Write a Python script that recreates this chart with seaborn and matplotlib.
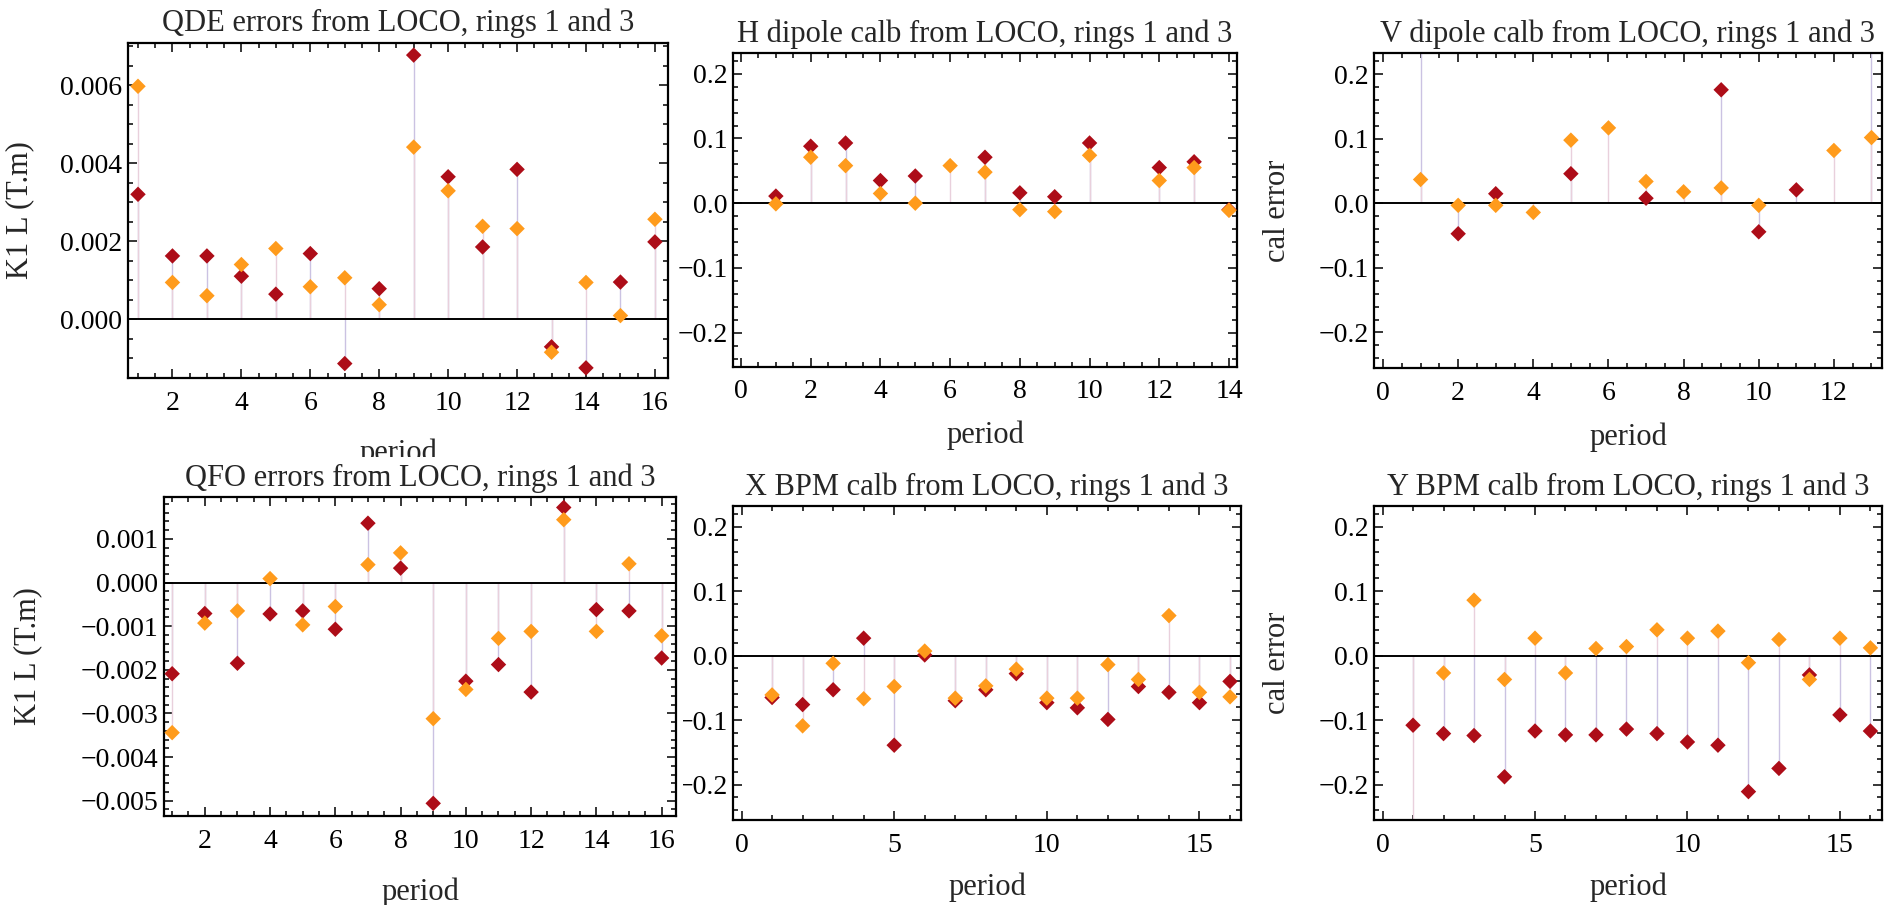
import numpy as np
import pandas as pd
import seaborn as sns
import matplotlib.pyplot as plt
from matplotlib.ticker import MultipleLocator, FuncFormatter
from matplotlib.patches import Rectangle

nan = np.nan

# periods for each panel
periods16 = list(range(1, 17))
periods14 = list(range(1, 15))
periods13 = list(range(1, 14))

# QDE errors (K1L, T.m)
qde_ring1 = [0.00320, 0.00162, 0.00162, 0.00110, 0.00064, 0.00168, -0.00114, 0.00078,
             0.00677, 0.00365, 0.00185, 0.00384, -0.00071, -0.00125, 0.00095, 0.00198]
qde_ring3 = [0.00597, 0.00094, 0.00060, 0.00140, 0.00181, 0.00083, 0.00106, 0.00037,
             0.00441, 0.00329, 0.00238, 0.00232, -0.00085, 0.00094, 0.00009, 0.00256]

# H dipole calibration
hdip_ring1 = [0.011, 0.088, 0.093, 0.035, 0.042, nan, 0.071, 0.016, 0.010, 0.093, nan, 0.055, 0.064, -0.010]
hdip_ring3 = [-0.001, 0.071, 0.058, 0.015, 0.000, 0.058, 0.048, -0.010, -0.013, 0.074, nan, 0.035, 0.055, -0.011]

# V dipole calibration (periods 1 and 13 of ring 1 are off the top of the plot)
vdip_ring1 = [0.30, -0.047, 0.015, nan, 0.046, nan, 0.008, nan, 0.176, -0.044, 0.021, nan, 0.30]
vdip_ring3 = [0.037, -0.003, -0.003, -0.014, 0.098, 0.117, 0.034, 0.018, 0.024, -0.003, nan, 0.082, 0.102]

# QFO errors (K1L, T.m)
qfo_ring1 = [-0.00209, -0.00071, -0.00185, -0.00072, -0.00065, -0.00107, 0.00136, 0.00033,
             -0.00506, -0.00226, -0.00188, -0.00251, 0.00172, -0.00062, -0.00065, -0.00173]
qfo_ring3 = [-0.00344, -0.00093, -0.00065, 0.00009, -0.00097, -0.00055, 0.00041, 0.00068,
             -0.00312, -0.00245, -0.00128, -0.00112, 0.00144, -0.00112, 0.00043, -0.00122]

# X BPM calibration
xbpm_ring1 = [-0.065, -0.076, -0.053, 0.027, -0.139, 0.001, -0.070, -0.053,
              -0.028, -0.073, -0.081, -0.099, -0.048, -0.057, -0.073, -0.040]
xbpm_ring3 = [-0.061, -0.109, -0.012, -0.067, -0.048, 0.007, -0.066, -0.047,
              -0.021, -0.066, -0.066, -0.014, -0.037, 0.062, -0.057, -0.064]

# Y BPM calibration (period 1 of ring 3 is off the bottom of the plot)
ybpm_ring1 = [-0.108, -0.121, -0.124, -0.188, -0.117, -0.123, -0.123, -0.114,
              -0.121, -0.134, -0.139, -0.211, -0.175, -0.030, -0.092, -0.117]
ybpm_ring3 = [-0.30, -0.027, 0.086, -0.037, 0.027, -0.027, 0.011, 0.014,
              0.040, 0.027, 0.038, -0.011, 0.025, -0.037, 0.027, 0.012]

PALETTE = {'ring 1': '#ad0d18', 'ring 3': '#ff9b1c'}
STEMS = {'ring 1': '#cbc2e2', 'ring 3': '#e9d0dc'}

sns.set_theme(style='ticks')
plt.rcParams['font.family'] = ['Liberation Serif', 'DejaVu Serif']
plt.rcParams['axes.linewidth'] = 1.5
plt.rcParams['axes.edgecolor'] = 'black'

W, H = 1884, 905
fig = plt.figure(figsize=(W / 100, H / 100), dpi=100)


def place(x0, y0, x1, y1, z=0):
    ax = fig.add_axes([x0 / W, 1 - y1 / H, (x1 - x0) / W, (y1 - y0) / H])
    ax.set_zorder(z)
    return ax


def fmt(decimals):
    def f(v, pos):
        s = f'{v:.{decimals}f}'
        if float(s) == 0:
            s = s.lstrip('-')
        return s.replace('-', '\u2212')
    return FuncFormatter(f)


def draw_panel(ax, periods, ring1, ring3, title, xlim, ylim, xstep, xminor, ystep, yminor, decimals,
               ylabel=None, ylabel_x=-0.2, xlabel_y=-0.215):
    df = pd.DataFrame({
        'period': list(periods) * 2,
        'value': list(ring1) + list(ring3),
        'ring': ['ring 1'] * len(periods) + ['ring 3'] * len(periods),
    }).dropna()
    for ring, c in STEMS.items():
        sub = df[df['ring'] == ring]
        ax.vlines(sub['period'], 0, sub['value'], colors=c, lw=1.0, zorder=1)
    ax.axhline(0, color='black', lw=1.4, zorder=2)
    sns.scatterplot(data=df, x='period', y='value', hue='ring', palette=PALETTE, marker='D',
                    s=62, linewidth=0, legend=False, ax=ax, zorder=3)
    ax.set_xlim(xlim)
    ax.set_ylim(ylim)
    ax.xaxis.set_major_locator(MultipleLocator(xstep))
    ax.xaxis.set_minor_locator(MultipleLocator(xminor))
    ax.yaxis.set_major_locator(MultipleLocator(ystep))
    ax.yaxis.set_minor_locator(MultipleLocator(yminor))
    ax.yaxis.set_major_formatter(fmt(decimals))
    ax.xaxis.set_major_formatter(FuncFormatter(lambda v, pos: f'{v:.0f}'))
    ax.tick_params(which='both', direction='in', top=True, right=True, color='black',
                   labelsize=20, width=1.1, labelcolor='black')
    ax.tick_params(which='major', length=6.5)
    ax.tick_params(which='minor', length=3.5)
    ax.tick_params(axis='x', pad=9)
    ax.tick_params(axis='y', pad=4)
    ax.set_title(title, fontsize=22, y=1.06, va='center', pad=0)
    ax.set_xlabel('period', fontsize=22, va='center')
    ax.xaxis.set_label_coords(0.5, xlabel_y)
    if ylabel:
        ax.set_ylabel(ylabel, fontsize=22, va='center')
        ax.yaxis.set_label_coords(ylabel_x, 0.5)
    else:
        ax.set_ylabel('')
    for sp in ax.spines.values():
        sp.set_linewidth(1.6)
        sp.set_color('black')


ax1 = place(128, 43, 668, 378)
draw_panel(ax1, periods16, qde_ring1, qde_ring3, 'QDE errors from LOCO, rings 1 and 3',
           (0.71, 16.38), (-0.00151, 0.00708), 2, 0.5, 0.002, 0.0005, 3,
           ylabel='K1 L (T.m)', ylabel_x=-0.2, xlabel_y=-0.225)

ax2 = place(733, 53, 1237, 367)
draw_panel(ax2, periods14, hdip_ring1, hdip_ring3, 'H dipole calb from LOCO, rings 1 and 3',
           (-0.23, 14.23), (-0.253, 0.232), 2, 0.5, 0.1, 0.02, 1, xlabel_y=-0.217)

ax3 = place(1374, 53, 1882, 368)
draw_panel(ax3, periods13, vdip_ring1, vdip_ring3, 'V dipole calb from LOCO, rings 1 and 3',
           (-0.24, 13.28), (-0.255, 0.233), 2, 0.5, 0.1, 0.02, 1,
           ylabel='cal error', ylabel_x=-0.189, xlabel_y=-0.219)

ax4 = place(164, 497, 676, 816, z=1)
draw_panel(ax4, periods16, qfo_ring1, qfo_ring3, 'QFO errors from LOCO, rings 1 and 3',
           (0.75, 16.44), (-0.00535, 0.00196), 2, 0.5, 0.001, 0.0002, 3,
           ylabel='K1 L (T.m)', ylabel_x=-0.266, xlabel_y=-0.238)

ax5 = place(733, 506, 1241, 820)
draw_panel(ax5, periods16, xbpm_ring1, xbpm_ring3, 'X BPM calb from LOCO, rings 1 and 3',
           (-0.28, 16.36), (-0.255, 0.232), 5, 1, 0.1, 0.02, 1, xlabel_y=-0.213)

ax6 = place(1374, 506, 1882, 820)
draw_panel(ax6, periods16, ybpm_ring1, ybpm_ring3, 'Y BPM calb from LOCO, rings 1 and 3',
           (-0.28, 16.38), (-0.255, 0.232), 5, 1, 0.1, 0.02, 1,
           ylabel='cal error', ylabel_x=-0.189, xlabel_y=-0.213)

# the lower-left cell is drawn over its neighbours, as in the original grid
fig.add_artist(Rectangle((0, 0), 683 / W, 1 - 457 / H, transform=fig.transFigure,
                         facecolor='white', edgecolor='none', zorder=0.5))

fig.savefig('out.png', dpi=100, facecolor='white')
